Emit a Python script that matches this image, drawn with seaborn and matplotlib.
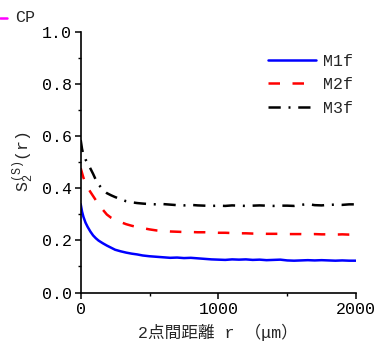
import numpy as np
import pandas as pd
import matplotlib
matplotlib.use("Agg")
import matplotlib.pyplot as plt
from matplotlib.lines import Line2D
from matplotlib.ticker import MultipleLocator, FormatStrFormatter
import seaborn as sns

# distance between two points r (um)
r = [0, 10, 20, 35, 50, 70, 90, 110, 130, 160, 190, 220, 250, 290, 330, 370,
     410, 450, 500, 550, 600, 650, 700, 750, 800, 850, 900, 950, 1000, 1050,
     1100, 1150, 1200, 1250, 1300, 1350, 1400, 1450, 1500, 1550, 1600, 1650,
     1700, 1750, 1800, 1850, 1900, 1950, 2000]

m1f = [0.339, 0.310, 0.290, 0.268, 0.252, 0.234, 0.219, 0.208, 0.199, 0.189,
       0.180, 0.172, 0.164, 0.158, 0.153, 0.149, 0.146, 0.142, 0.139, 0.137,
       0.135, 0.133, 0.134, 0.132, 0.133, 0.131, 0.129, 0.127, 0.126, 0.125,
       0.127, 0.126, 0.127, 0.125, 0.126, 0.124, 0.125, 0.126, 0.123, 0.122,
       0.123, 0.124, 0.123, 0.124, 0.123, 0.122, 0.123, 0.122, 0.122]

m2f = [0.477, 0.458, 0.440, 0.420, 0.403, 0.386, 0.370, 0.354, 0.340, 0.318,
       0.299, 0.287, 0.279, 0.270, 0.262, 0.256, 0.251, 0.247, 0.242, 0.238,
       0.236, 0.234, 0.233, 0.232, 0.232, 0.231, 0.231, 0.230, 0.229, 0.229,
       0.228, 0.227, 0.227, 0.226, 0.226, 0.225, 0.225, 0.225, 0.224, 0.224,
       0.224, 0.223, 0.224, 0.223, 0.223, 0.222, 0.223, 0.222, 0.222]

m3f = [0.585, 0.550, 0.528, 0.510, 0.497, 0.476, 0.455, 0.432, 0.414, 0.395,
       0.381, 0.373, 0.366, 0.358, 0.350, 0.346, 0.343, 0.341, 0.339, 0.338,
       0.339, 0.337, 0.335, 0.334, 0.336, 0.334, 0.333, 0.332, 0.333, 0.332,
       0.334, 0.333, 0.332, 0.333, 0.334, 0.333, 0.332, 0.333, 0.333, 0.332,
       0.336, 0.339, 0.335, 0.334, 0.336, 0.337, 0.336, 0.338, 0.338]

series_names = ["M1f", "M2f", "M3f"]
series_values = [m1f, m2f, m3f]

df = pd.concat(
    [pd.DataFrame({"r": r, "S": v, "series": n}) for n, v in zip(series_names, series_values)],
    ignore_index=True,
)

sns.set_theme(style="ticks")
plt.rcParams["font.family"] = ["Liberation Mono", "Noto Sans CJK JP", "DejaVu Sans"]
plt.rcParams["mathtext.default"] = "regular"

FS = 12

fig = plt.figure(figsize=(3.76, 3.44), dpi=100)
ax = fig.add_axes([0.2146, 0.1497, 0.9468 - 0.2146, 0.9078 - 0.1497])

palette = {"M1f": "#0000ff", "M2f": "#ff0000", "M3f": "#000000"}
dashes = {"M1f": "", "M2f": (4.6, 5.0), "M3f": (4.9, 3.1, 0.8, 3.1)}

sns.lineplot(data=df, x="r", y="S", hue="series", style="series",
             palette=palette, dashes=dashes, linewidth=1.8, ax=ax, legend=False)

ax.set_xlim(0, 2000)
ax.set_ylim(0, 1.0)
ax.xaxis.set_major_locator(MultipleLocator(1000))
ax.xaxis.set_minor_locator(MultipleLocator(500))
ax.yaxis.set_major_locator(MultipleLocator(0.2))
ax.yaxis.set_minor_locator(MultipleLocator(0.1))
ax.yaxis.set_major_formatter(FormatStrFormatter("%.1f"))
ax.tick_params(which="major", direction="out", length=4, width=1.1,
               labelsize=FS, color="black", labelcolor="black", pad=2.5)
ax.tick_params(which="minor", direction="out", length=2.5, width=1.0, color="black")
for side in ("top", "right"):
    ax.spines[side].set_visible(False)
for side in ("left", "bottom"):
    ax.spines[side].set_linewidth(1.2)
    ax.spines[side].set_color("black")

ax.set_xlabel("2点間距離 r （μm）", fontsize=FS, labelpad=5)
ax.set_ylabel(r"$S_2^{(S)}$(r)", fontsize=FS, labelpad=4)

handles = [Line2D([], [], color=palette[n], linewidth=1.8,
                  dashes=dashes[n] if dashes[n] else (None, None)) for n in series_names]
handles[0].set_linestyle("-")
ax.legend(handles, series_names, loc="upper left",
          bbox_to_anchor=(268 / 376, 1 - 54 / 344), bbox_transform=fig.transFigure,
          frameon=False, fontsize=FS, handlelength=2.85, handletextpad=0.45,
          labelspacing=0.5, borderpad=0, borderaxespad=0)

# partial legend entry at the upper-left corner
fig.add_artist(Line2D([0, 7 / 376], [1 - 18 / 344] * 2, transform=fig.transFigure,
                      color="#ff00ff", linewidth=1.8))
fig.text(15 / 376, 1 - 18 / 344, "CP", fontsize=FS, va="center", ha="left")

fig.savefig("out.png", dpi=100)
